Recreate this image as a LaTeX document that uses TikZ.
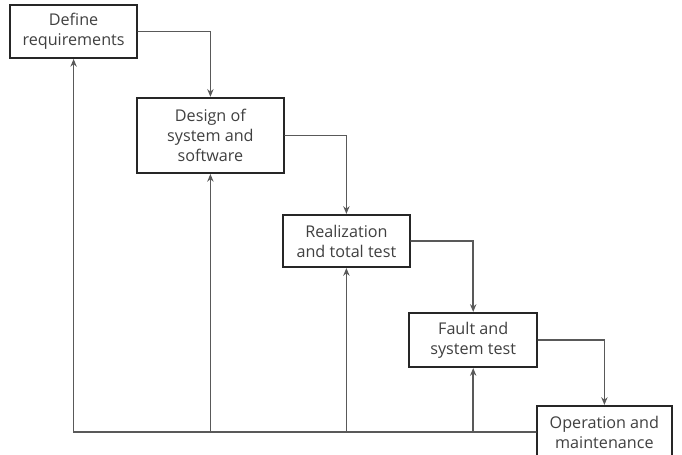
\documentclass[tikz,border=0pt]{standalone}
\usepackage{fontspec}
\setmainfont{Open Sans}
\usetikzlibrary{arrows.meta}
\begin{document}
\begin{tikzpicture}[line cap=round,font=\fontsize{11.5}{14.2}\selectfont,
  stage/.style={draw=black!85,line width=1.5pt,fill=white,text=black!75,align=center,inner sep=0pt},
  flow/.style={draw=black!65,line width=1.05pt,-{Stealth[length=5.5pt,width=4.5pt]}}]
\useasboundingbox (0,0) rectangle (17.05,11.375);
\clip (0,0) rectangle (17.05,11.375);
% forward flow
\coordinate(reqC)at(1.84,10.59);\coordinate(desC)at(5.26,7.99);\coordinate(reaC)at(8.66,5.35);\coordinate(fauC)at(11.83,2.875);\coordinate(opsC)at(15.11,.575);
\node[stage,minimum width=3.175cm,minimum height=1.325cm](req)at(reqC){Define\\requirements};
\node[stage,minimum width=3.675cm,minimum height=1.875cm](des)at(desC){Design of\\system and\\software};
\node[stage,minimum width=3.175cm,minimum height=1.3cm](rea)at(reaC){Realization\\and total  test};
\node[stage,minimum width=3.2cm,minimum height=1.35cm](fau)at(fauC){Fault and\\system test};
\node[stage,minimum width=3.375cm,minimum height=1.3cm](ops)at(opsC){Operation and\\maintenance};
\draw[flow](req.east)-|(des.north);\draw[flow](des.east)-|(rea.north);\draw[flow](rea.east)-|(fau.north);\draw[flow](fau.east)-|(ops.north);
% return line
\draw[flow](ops.west)-|(req.south);
\foreach\s in{des,rea,fau}\draw[flow](\s.south|-ops.west)--(\s.south);
\end{tikzpicture}
\end{document}
